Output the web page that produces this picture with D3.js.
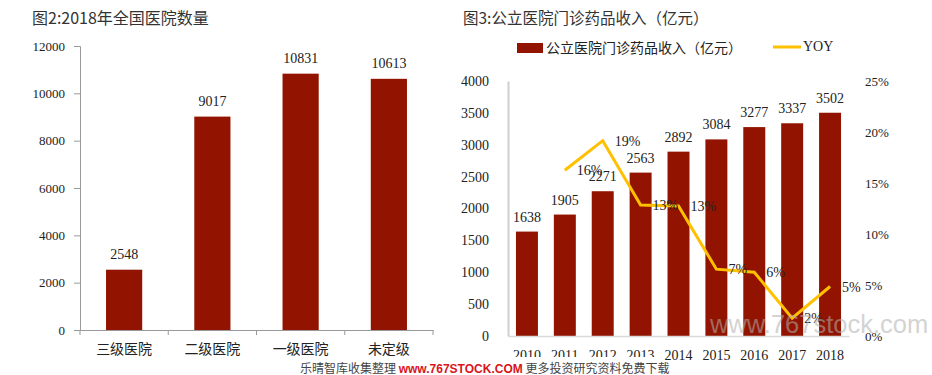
<!DOCTYPE html>
<html>
<head>
<meta charset="utf-8">
<script src="https://cdn.jsdelivr.net/npm/d3@7"></script>
<style>
  body { margin: 0; background: #fff; }
  svg { display: block; }
</style>
</head>
<body>
<svg id="chart"></svg>
<script>
// figure 2: hospitals by grade, 2018
const hospCats = ['三级医院', '二级医院', '一级医院', '未定级'];
const hospCounts = [2548, 9017, 10831, 10613];
const hospTicks = [0, 2000, 4000, 6000, 8000, 10000, 12000];

// figure 3: outpatient drug income of public hospitals
const years = ['2010', '2011', '2012', '2013', '2014', '2015', '2016', '2017', '2018'];
const income = [1638, 1905, 2271, 2563, 2892, 3084, 3277, 3337, 3502];
const yoyYears = ['2011', '2012', '2013', '2014', '2015', '2016', '2017', '2018'];
const yoy = [0.163, 0.192, 0.129, 0.128, 0.066, 0.063, 0.018, 0.049];
const incomeTicks = [0, 500, 1000, 1500, 2000, 2500, 3000, 3500, 4000];
const yoyTicks = [0, 0.05, 0.10, 0.15, 0.20, 0.25];

const W = 932, H = 375;
const barColor = '#921400';
const lineColor = '#FFC000';
const serif = '"Liberation Serif", "Times New Roman", serif';
const cjk = '"Noto Sans CJK SC", "Noto Sans", sans-serif';

const svg = d3.select('#chart').attr('width', W).attr('height', H);

// ---------- left chart ----------
const lx = d3.scaleBand().domain(hospCats).range([80, 433]);
const ly = d3.scaleLinear().domain([0, 12000]).range([330, 46]);

svg.append('text')
    .attr('x', 32).attr('y', 24)
    .attr('font-family', cjk).attr('font-size', 16).attr('fill', '#333')
    .text('图2:2018年全国医院数量');

const lyAxis = svg.append('g')
    .attr('transform', 'translate(80,0)')
    .call(d3.axisLeft(ly).tickValues(hospTicks).tickSize(6).tickPadding(9).tickFormat(d3.format('d')));
lyAxis.select('.domain').attr('stroke', '#999');
lyAxis.selectAll('.tick line').attr('stroke', '#999');
lyAxis.selectAll('text').attr('font-family', serif).attr('font-size', 13).attr('fill', '#222');

const lxAxis = svg.append('g')
    .attr('transform', 'translate(0,330)')
    .call(d3.axisBottom(lx).tickSize(0).tickPadding(14));
lxAxis.select('.domain').attr('stroke', '#999');
lxAxis.selectAll('text').attr('font-family', cjk).attr('font-size', 14).attr('fill', '#222');

// tick marks sit on the category boundaries
svg.append('g').selectAll('line')
    .data(hospCats.concat(['end']))
    .join('line')
    .attr('x1', (d, i) => 80 + i * lx.step())
    .attr('x2', (d, i) => 80 + i * lx.step())
    .attr('y1', 330).attr('y2', 335)
    .attr('stroke', '#999');

const lbw = lx.bandwidth() * 0.41;
svg.append('g').selectAll('rect')
    .data(hospCounts)
    .join('rect')
    .attr('x', (d, i) => lx(hospCats[i]) + (lx.bandwidth() - lbw) / 2)
    .attr('width', lbw)
    .attr('y', d => ly(d))
    .attr('height', d => ly(0) - ly(d))
    .attr('fill', barColor);

svg.append('g').selectAll('text')
    .data(hospCounts)
    .join('text')
    .attr('x', (d, i) => lx(hospCats[i]) + lx.bandwidth() / 2)
    .attr('y', d => ly(d) - 11)
    .attr('text-anchor', 'middle')
    .attr('font-family', serif).attr('font-size', 14).attr('fill', '#222')
    .text(d => d);

// ---------- right chart ----------
const rx = d3.scaleBand().domain(years).range([508, 849]);
const ry = d3.scaleLinear().domain([0, 4000]).range([336, 81]);
const ry2 = d3.scaleLinear().domain([0, 0.25]).range([336.5, 81.5]);

svg.append('text')
    .attr('x', 463).attr('y', 24)
    .attr('font-family', cjk).attr('font-size', 15.5).attr('fill', '#333')
    .text('图3:公立医院门诊药品收入（亿元）');

// legend
svg.append('rect').attr('x', 517).attr('y', 43).attr('width', 26).attr('height', 10).attr('fill', barColor);
svg.append('text').attr('x', 546).attr('y', 53)
    .attr('font-family', cjk).attr('font-size', 14).attr('fill', '#222')
    .text('公立医院门诊药品收入（亿元）');
svg.append('line').attr('x1', 773).attr('x2', 801).attr('y1', 47).attr('y2', 47)
    .attr('stroke', lineColor).attr('stroke-width', 3);
svg.append('text').attr('x', 803).attr('y', 51)
    .attr('font-family', serif).attr('font-size', 14).attr('fill', '#222')
    .text('YOY');

const ryAxis = svg.append('g')
    .attr('transform', 'translate(508,0)')
    .call(d3.axisLeft(ry).tickValues(incomeTicks).tickSize(0).tickPadding(19).tickFormat(d3.format('d')));
ryAxis.select('.domain').attr('stroke', '#cfcfcf').attr('stroke-width', 2);
ryAxis.selectAll('text').attr('font-family', serif).attr('font-size', 14).attr('fill', '#222');

const ry2Axis = svg.append('g')
    .attr('transform', 'translate(862,0)')
    .call(d3.axisRight(ry2).tickValues(yoyTicks).tickSize(0).tickPadding(3).tickFormat(d3.format('.0%')));
ry2Axis.select('.domain').remove();
ry2Axis.selectAll('text').attr('font-family', serif).attr('font-size', 13).attr('fill', '#222');

const rbw = rx.bandwidth() * 0.58;
svg.append('g').selectAll('rect')
    .data(income)
    .join('rect')
    .attr('x', (d, i) => rx(years[i]) + (rx.bandwidth() - rbw) / 2)
    .attr('width', rbw)
    .attr('y', d => ry(d))
    .attr('height', d => ry(0) - ry(d))
    .attr('fill', barColor);

const rxAxis = svg.append('g')
    .attr('transform', 'translate(0,336)')
    .call(d3.axisBottom(rx).tickSize(0).tickPadding(14));
rxAxis.select('.domain').attr('stroke', '#d9d9d9').attr('stroke-width', 1.5);
rxAxis.selectAll('text').attr('font-family', serif).attr('font-size', 14).attr('fill', '#222');

svg.append('g').selectAll('text')
    .data(income)
    .join('text')
    .attr('x', (d, i) => rx(years[i]) + rx.bandwidth() / 2)
    .attr('y', d => ry(d) - 10)
    .attr('text-anchor', 'middle')
    .attr('font-family', serif).attr('font-size', 14).attr('fill', '#222')
    .text(d => d);

const line = d3.line()
    .x((d, i) => rx(yoyYears[i]) + rx.bandwidth() / 2)
    .y(d => ry2(d));

svg.append('path')
    .datum(yoy)
    .attr('d', line)
    .attr('fill', 'none')
    .attr('stroke', lineColor)
    .attr('stroke-width', 3);

svg.append('g').selectAll('text')
    .data(yoy)
    .join('text')
    .attr('x', (d, i) => rx(yoyYears[i]) + rx.bandwidth() / 2 + 12)
    .attr('y', d => ry2(d) + 5)
    .attr('font-family', serif).attr('font-size', 14).attr('fill', '#222')
    .text(d => Math.round(d * 100) + '%');

// ---------- watermarks ----------
svg.append('text')
    .attr('x', 710).attr('y', 333)
    .attr('font-family', '"Liberation Sans", Arial, sans-serif').attr('font-size', 25.5)
    .attr('fill', '#b0b0b0').attr('opacity', 0.55)
    .text('www.767stock.com');

svg.append('rect').attr('x', 290).attr('y', 357).attr('width', 374).attr('height', 18).attr('fill', '#fff');
const wm = svg.append('text')
    .attr('x', 300).attr('y', 373)
    .attr('font-family', cjk).attr('font-size', 12);
wm.append('tspan').attr('fill', '#444').text('乐晴智库收集整理 ');
wm.append('tspan').attr('fill', '#d9141b').attr('font-weight', 'bold')
    .attr('font-family', '"Liberation Sans", Arial, sans-serif').text('www.767STOCK.COM');
wm.append('tspan').attr('fill', '#444').text(' 更多投资研究资料免费下载');
</script>
</body>
</html>
